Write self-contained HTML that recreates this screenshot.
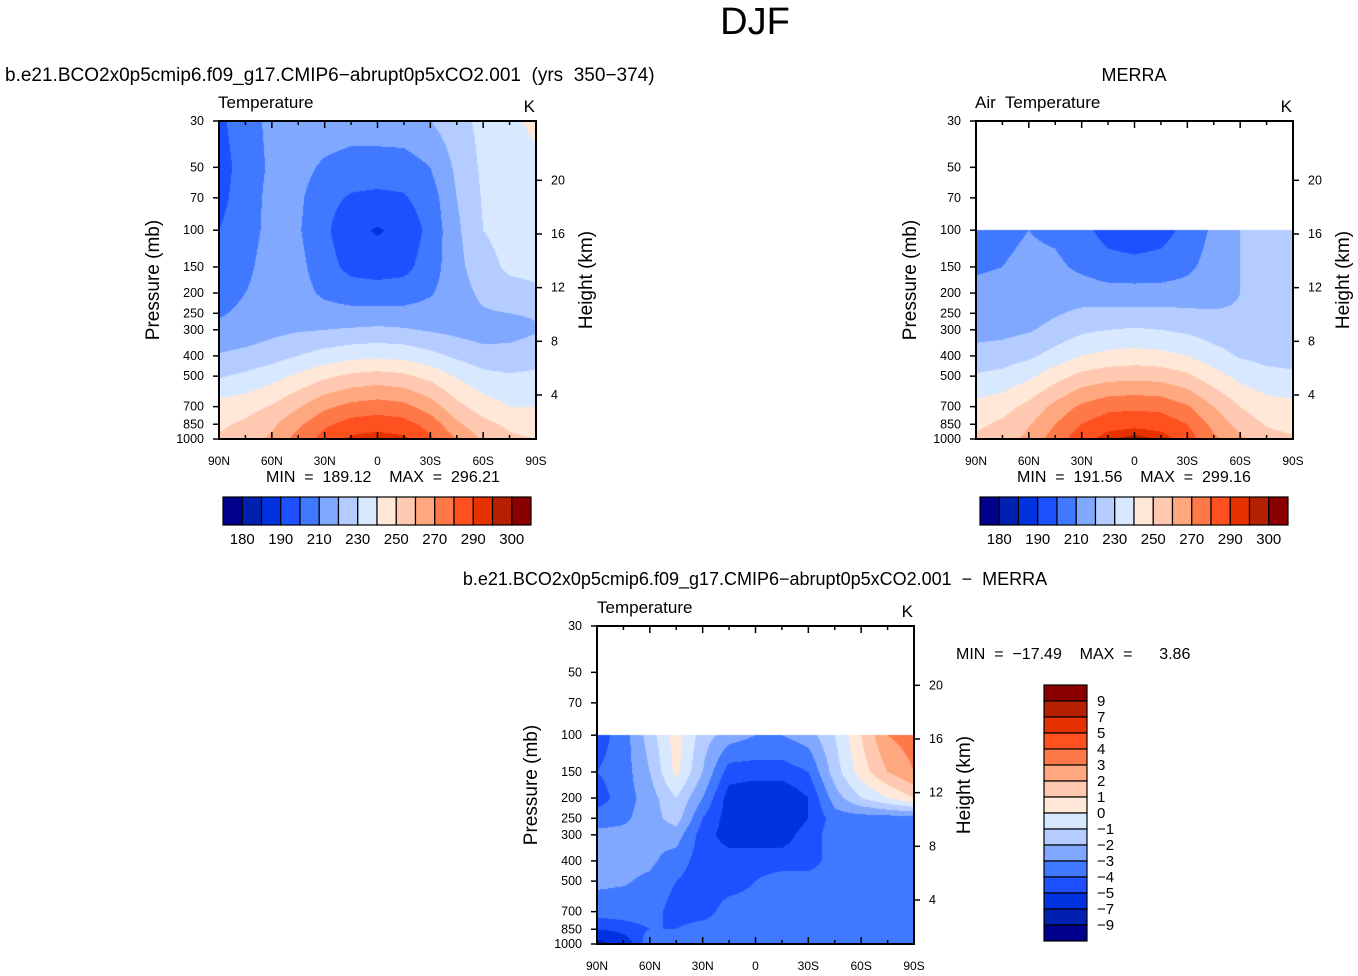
<!DOCTYPE html>
<html><head><meta charset="utf-8"><style>
body{margin:0;background:#fff;width:1358px;height:976px;position:relative;overflow:hidden;font-family:"Liberation Sans",sans-serif;}
canvas{position:absolute;}
svg{position:absolute;left:0;top:0;}
svg text{white-space:pre;}
</style></head><body>
<canvas id="c1" width="317" height="318" style="left:219px;top:121px"></canvas>
<canvas id="c2" width="317" height="318" style="left:976px;top:121px"></canvas>
<canvas id="c3" width="317" height="318" style="left:597px;top:626px"></canvas>
<svg id="s" width="1358" height="976"></svg>
<script>
const colors=["#00008a","#0020b0","#0032e0","#1e50ff","#4078ff","#80a8ff","#b4ccff","#d8e8ff","#ffe8d8","#ffc8b0","#ffa880","#ff7848","#ff5020","#e63200","#b42000","#8a0000"];
const tempLevels=[180,185,190,200,210,220,230,240,250,260,270,280,290,295,300];
const diffLevels=[-9,-7,-5,-4,-3,-2,-1,0,1,2,3,4,5,7,9];
const tempLabels=["180","190","210","230","250","270","290","300"];
const diffLabels=["9","7","5","4","3","2","1","0","−1","−2","−3","−4","−5","−7","−9"];
const lats=[90,75,60,45,30,15,0,-15,-30,-45,-60,-75,-90];
const presFull=[30,50,70,100,150,200,250,300,400,500,700,850,1000];
const pres100=[100,150,200,250,300,400,500,700,850,1000];
const modelT=[
[198,205,213,218,217,216,216,217,220,226,233,238,242],
[196,204,212,214,208,205,205,205,210,222,232,236,238],
[197,205,213,212,203,199,198,199,205,220,231,235,236],
[200,206,213,211,202,193,189,193,203,218,230,234,235],
[204,208,214,213,204,197,195,197,205,217,226,232,233],
[206,210,214,214,208,205,205,205,209,216,222,226,228],
[209,212,215,216,214,213,213,213,214,216,219,220,221],
[212,214,217,219,220,221,222,221,219,217,215,216,219],
[221,223,226,230,234,237,238,237,233,228,224,224,226],
[229,232,236,242,248,252,254,252,247,239,233,231,232],
[244,246,251,259,268,273,275,273,265,253,245,240,240],
[248,252,258,268,278,284,286,284,276,262,253,248,245],
[252,254,262,274,284,292,294,292,282,270,258,252,250]];
const merraT=[
[205,208,210,208,203,196,194,196,203,212,220,221,221],
[209,210,212,212,208,204,203,204,208,214,220,222,222],
[212,213,214,215,215,214,214,214,214,216,220,222,222],
[214,215,216,219,222,223,223,223,222,221,221,222,222],
[216,217,219,223,228,230,231,230,228,225,224,224,223],
[224,225,228,234,240,243,244,243,240,234,229,227,226],
[231,233,238,246,253,256,257,256,252,244,237,233,232],
[243,246,253,263,272,277,278,277,271,260,250,244,243],
[248,252,259,270,280,286,287,286,280,267,256,249,246],
[252,255,263,275,286,294,298,294,285,272,262,254,252]];
const diffT=[
[-4.5,-3.5,-1.5,0.5,-1.5,-2.5,-3,-3,-2.5,-1,1,3,3.5],
[-4,-3.5,-2,0.3,-2,-4.5,-4.5,-4.5,-4,-1.5,0.5,2,3],
[-4.5,-3.5,-2.5,-1,-3,-5.5,-6,-6,-5,-2.5,-1,0,1],
[-3.5,-3.2,-2.5,-1.5,-4,-5.5,-6,-6,-5,-3.5,-3.5,-3.5,-3.5],
[-2.7,-2.7,-2.8,-2.5,-4.5,-5.5,-5.5,-5.5,-4.5,-3.5,-3.5,-3.5,-3.2],
[-2.7,-2.7,-2.8,-3.5,-4.5,-4.5,-4.5,-4.5,-4.5,-3.5,-3.5,-3.5,-3.5],
[-2.8,-2.9,-3.2,-4,-4.5,-4.5,-4,-3.5,-3.5,-3.5,-3.5,-3.5,-3.5],
[-3.5,-3.5,-3.5,-4.5,-4.5,-3.5,-3.5,-3.5,-3.5,-3.5,-3.5,-3.2,-3.2],
[-5,-4.5,-4,-4,-3.5,-3.5,-3.5,-3.5,-3.5,-3.2,-3.2,-3.2,-3.2],
[-8,-6,-3.2,-3.2,-3.2,-3.2,-3.5,-3.5,-3.5,-3.2,-3.2,-3.2,-3.2]];
const pTicks=[30,50,70,100,150,200,250,300,400,500,700,850,1000];
const hTicks=[20,16,12,8,4];
const latTicks=["90N","60N","30N","0","30S","60S","90S"];

const W=317,H=318;
function yOfP(p){return (Math.log(p)-Math.log(30))/(Math.log(1000)-Math.log(30))*H;}
function yOfKm(km){return yOfP(1112*Math.exp(-km/6.76));}
function hex(c){return [parseInt(c.substr(1,2),16),parseInt(c.substr(3,2),16),parseInt(c.substr(5,2),16)];}
const rgb=colors.map(hex);
function fill(id,field,pres,levels){
  const cv=document.getElementById(id),ctx=cv.getContext('2d');
  const img=ctx.createImageData(W,H);
  const lp=pres.map(p=>yOfP(p));
  for(let y=0;y<H;y++){
    const yy=y+0.5;let i=-1;
    for(let k=0;k<lp.length-1;k++){if(yy>=lp[k]&&yy<=lp[k+1]){i=k;break;}}
    if(yy>lp[lp.length-1]) i=lp.length-2;
    for(let x=0;x<W;x++){
      const o=(y*W+x)*4;
      if(i<0){img.data[o]=255;img.data[o+1]=255;img.data[o+2]=255;img.data[o+3]=255;continue;}
      const ty=Math.min(1,(yy-lp[i])/(lp[i+1]-lp[i]));
      const fx=(x+0.5)/W*(lats.length-1);const j=Math.min(lats.length-2,Math.floor(fx));const tx=fx-j;
      const v=(field[i][j]*(1-tx)+field[i][j+1]*tx)*(1-ty)+(field[i+1][j]*(1-tx)+field[i+1][j+1]*tx)*ty;
      let idx=0;while(idx<levels.length&&v>=levels[idx])idx++;
      const c=rgb[idx];img.data[o]=c[0];img.data[o+1]=c[1];img.data[o+2]=c[2];img.data[o+3]=255;
    }
  }
  ctx.putImageData(img,0,0);
}
fill('c1',modelT,presFull,tempLevels);
fill('c2',merraT,pres100,tempLevels);
fill('c3',diffT,pres100,diffLevels);

const s=document.getElementById('s');const NS="http://www.w3.org/2000/svg";
function el(tag,a,txt){const e=document.createElementNS(NS,tag);for(const k in a)e.setAttribute(k,a[k]);if(txt!==undefined)e.textContent=txt;s.appendChild(e);return e;}
function text(x,y,t,size,anchor,name,extra){const e=el('text',Object.assign({x:x,y:y,'font-size':size,'text-anchor':anchor||'start','font-family':'Liberation Sans, sans-serif',fill:'#000'},extra||{}),t);

return e;}
text(755,34,"DJF",38,'middle','main-title');
function panel(x0,y0,pre){
  const r=el('rect',{x:x0,y:y0,width:W,height:H,fill:'none',stroke:'#000','stroke-width':2});
  
  
  for(let k=0;k<=12;k++){const x=x0+k*W/12;const L=k%2==0?7:4;
    el('line',{x1:x,y1:y0,x2:x,y2:y0+L,stroke:'#000','stroke-width':1.5});
    el('line',{x1:x,y1:y0+H,x2:x,y2:y0+H-L,stroke:'#000','stroke-width':1.5});}
  latTicks.forEach((t,k)=>{text(x0+k*W/6,y0+H+26,t,12,'middle',pre+'-lat-label');});
  pTicks.forEach(p=>{const y=y0+yOfP(p);el('line',{x1:x0-6,y1:y,x2:x0,y2:y,stroke:'#000','stroke-width':1.5});
    text(x0-15,y+4,String(p),12.5,'end',pre+'-pressure-label');});
  hTicks.forEach(h=>{const y=y0+yOfKm(h);el('line',{x1:x0+W,y1:y,x2:x0+W+6,y2:y,stroke:'#000','stroke-width':1.5});
    text(x0+W+15,y+4,String(h),12.5,'start',pre+'-height-label');});
  text(x0-60,y0+H/2,"Pressure (mb)",19,'middle',pre+'-y-axis-title',{transform:`rotate(-90 ${x0-60} ${y0+H/2})`});
  text(x0+W+56,y0+H/2,"Height (km)",19,'middle',pre+'-right-axis-title',{transform:`rotate(-90 ${x0+W+56} ${y0+H/2})`});
  text(x0+W-1,y0-9,"K",17,'end',pre+'-units');
}
panel(219,121,'model');panel(976,121,'merra');panel(597,626,'diff');
text(5,81,"b.e21.BCO2x0p5cmip6.f09_g17.CMIP6−abrupt0p5xCO2.001  (yrs  350−374)",19,'start','model-title');
text(218,108,"Temperature",17,'start','model-variable');
text(1134,81,"MERRA",18,'middle','merra-title');
text(975,108,"Air  Temperature",17,'start','merra-variable');
text(755,585,"b.e21.BCO2x0p5cmip6.f09_g17.CMIP6−abrupt0p5xCO2.001  −  MERRA",18,'middle','diff-title');
text(597,613,"Temperature",17,'start','diff-variable');
text(383,482,"MIN  =  189.12    MAX  =  296.21",16,'middle','model-minmax');
text(1134,482,"MIN  =  191.56    MAX  =  299.16",16,'middle','merra-minmax');
text(956,659,"MIN  =  −17.49    MAX  =      3.86",16,'start','diff-minmax');
function hbar(x0,pre){const bw=308/16;
  colors.forEach((c,k)=>{const r=el('rect',{x:x0+k*bw,y:497,width:bw,height:28,fill:c,stroke:'#000','stroke-width':1.2});
    
    });
  tempLabels.forEach((t,k)=>text(x0+(2*k+1)*bw,544,t,15,'middle',pre+'-colorbar-label'));}
hbar(223,'model');hbar(980,'merra');
const vbh=256/16;
colors.slice().reverse().forEach((c,k)=>{const r=el('rect',{x:1044,y:685+k*vbh,width:43,height:vbh,fill:c,stroke:'#000','stroke-width':1.2});
  
  });
diffLabels.forEach((t,k)=>text(1097,685+(k+1)*vbh+5,t,15,'start','diff-colorbar-label'));
</script>
</body></html>
